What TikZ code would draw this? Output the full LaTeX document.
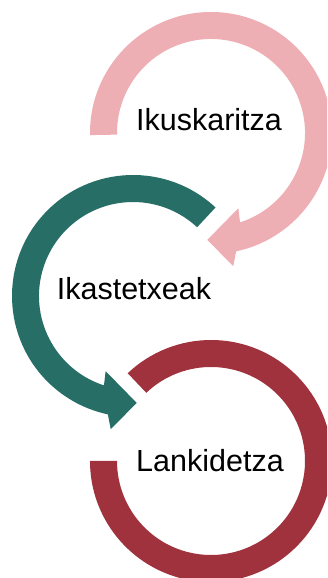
\documentclass[tikz,border=0pt]{standalone}
\usepackage{fontspec}
\setmainfont{Liberation Sans}
\usetikzlibrary{positioning}
\definecolor{rosa}{HTML}{EEAFB4}
\definecolor{berde}{HTML}{276F66}
\definecolor{gorri}{HTML}{9F323D}

\begin{document}
\begin{tikzpicture}[x=1pt,y=1pt,on grid,
word/.style={font=\fontsize{30.5}{36}\selectfont, inner sep=0pt, text=black}]
\useasboundingbox (0,0) rectangle (327,578);
\clip (0,0) rectangle (327,578);
\coordinate (P) at (211,445);
\coordinate (G) at (133,282);
\coordinate (R) at (211,117);
% pink arrow
\fill[rosa,shift={(P)}] (181:121) arc[start angle=181,end angle=-78,radius=121]
 -- (-80.5:135) -- (-92:107) -- (-70:80) -- (-72:94)
 arc[start angle=-72,end angle=181,radius=94] -- cycle;
% green arrow
\fill[berde,shift={(G)}] (47:121) arc[start angle=47,end angle=258,radius=121]
 -- (260.5:135) -- (272:107) -- (250:80) -- (252:94)
 arc[start angle=252,end angle=47,radius=94] -- cycle;
% red ring
\fill[gorri,shift={(R)}] (180:121) arc[start angle=180,end angle=493.5,radius=121]
 -- (493.5:94) arc[start angle=493.5,end angle=180,radius=94] -- cycle;
\node[word,anchor=base] (ikus) at (209,447) {Ikuskaritza};
\node[word] (ikas) [below left=169pt and 75pt of ikus] {Ikastetxeak};
\node[word] (lank) [below right=172pt and 76pt of ikas] {Lankidetza};
\end{tikzpicture}
\end{document}
